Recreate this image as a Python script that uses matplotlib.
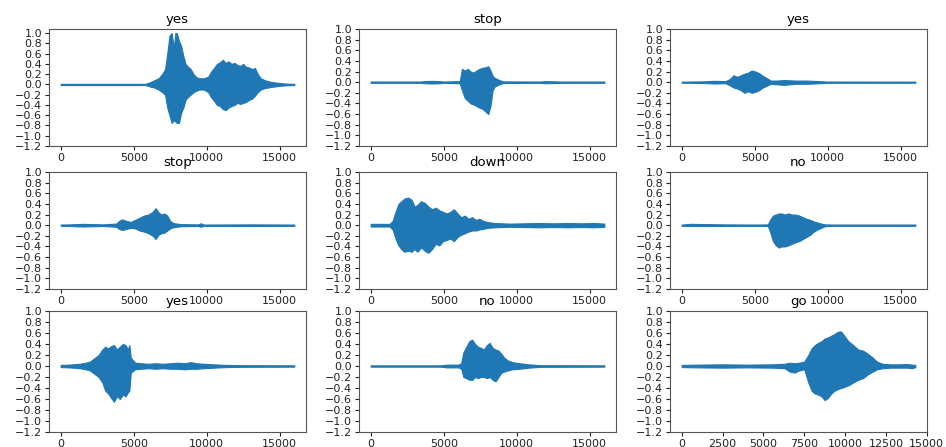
import matplotlib
matplotlib.use("Agg")
import matplotlib.pyplot as plt

# ---------------- data (envelopes) ----------------
titles = ["yes", "stop", "yes", "stop", "down", "no", "yes", "no", "go"]

# panel 1 "yes"
t1 = [0, 5800, 6100, 6400, 6700, 6950, 7150, 7300, 7450, 7600, 7750, 7850, 7950, 8100, 8250, 8400, 8550,
      8700, 8900, 9100, 9300, 9500, 9800, 10100, 10300, 10500, 10700, 10900, 11100, 11300, 11500, 11700,
      11900, 12100, 12300, 12500, 12700, 12900, 13100, 13300, 13500, 13700, 14000, 14400, 14900, 15500, 16000]
u1 = [0.012, 0.012, 0.04, 0.08, 0.12, 0.2, 0.3, 0.6, 0.95, 1.0, 0.7, 1.0, 1.0, 0.85, 0.75, 0.55, 0.4,
      0.35, 0.3, 0.2, 0.14, 0.12, 0.12, 0.15, 0.25, 0.32, 0.4, 0.43, 0.48, 0.42, 0.45, 0.4,
      0.42, 0.38, 0.36, 0.4, 0.34, 0.33, 0.3, 0.32, 0.2, 0.12, 0.08, 0.05, 0.03, 0.015, 0.012]
l1 = [-0.012, -0.012, -0.04, -0.06, -0.1, -0.15, -0.2, -0.45, -0.6, -0.75, -0.7, -0.72, -0.75, -0.75, -0.55, -0.45, -0.3,
      -0.25, -0.2, -0.15, -0.12, -0.1, -0.1, -0.15, -0.25, -0.32, -0.4, -0.42, -0.48, -0.5, -0.45, -0.42,
      -0.4, -0.36, -0.38, -0.36, -0.34, -0.3, -0.28, -0.22, -0.15, -0.1, -0.07, -0.05, -0.03, -0.015, -0.012]

# panel 2 "stop"
t2 = [0, 3400, 3700, 4200, 4700, 5000, 6100, 6250, 6450, 6650, 6850, 7050, 7250, 7450, 7650, 7850,
      8050, 8200, 8350, 8500, 8800, 9100, 11600, 12000, 12600, 13100, 16000]
u2 = [0.012, 0.012, 0.02, 0.025, 0.02, 0.012, 0.02, 0.25, 0.22, 0.25, 0.2, 0.18, 0.22, 0.25, 0.27, 0.28,
      0.3, 0.22, 0.12, 0.08, 0.04, 0.015, 0.012, 0.02, 0.015, 0.012, 0.012]
l2 = [-0.012, -0.012, -0.02, -0.025, -0.02, -0.012, -0.02, -0.15, -0.3, -0.35, -0.4, -0.42, -0.45, -0.48, -0.5, -0.55,
      -0.6, -0.45, -0.15, -0.08, -0.04, -0.015, -0.012, -0.02, -0.015, -0.012, -0.012]

# panel 3 "yes"
t3 = [0, 1500, 2200, 3000, 3300, 3550, 3800, 4050, 4300, 4550, 4800, 5050, 5300, 5550, 5800, 6100,
      6500, 7000, 7800, 8600, 9400, 9900, 16000]
u3 = [0.01, 0.015, 0.025, 0.02, 0.06, 0.13, 0.1, 0.13, 0.16, 0.18, 0.22, 0.2, 0.17, 0.12, 0.08, 0.03,
      0.03, 0.04, 0.03, 0.03, 0.02, 0.012, 0.01]
l3 = [-0.01, -0.015, -0.025, -0.02, -0.06, -0.1, -0.12, -0.15, -0.2, -0.17, -0.2, -0.18, -0.15, -0.1, -0.07, -0.03,
      -0.04, -0.05, -0.03, -0.03, -0.02, -0.012, -0.01]

# panel 4 "stop"
t4 = [0, 600, 1500, 2200, 2900, 3800, 4000, 4200, 4500, 4800, 5100, 5400, 5700, 6000, 6300, 6500,
      6700, 6900, 7100, 7300, 7500, 7700, 8200, 9400, 9600, 9800, 13000, 16000]
u4 = [0.012, 0.015, 0.025, 0.02, 0.015, 0.03, 0.08, 0.11, 0.08, 0.06, 0.1, 0.14, 0.18, 0.2, 0.25, 0.32,
      0.24, 0.2, 0.22, 0.18, 0.08, 0.04, 0.02, 0.015, 0.035, 0.012, 0.015, 0.012]
l4 = [-0.012, -0.015, -0.025, -0.02, -0.015, -0.03, -0.07, -0.09, -0.07, -0.05, -0.06, -0.1, -0.12, -0.15, -0.2, -0.26,
      -0.18, -0.15, -0.14, -0.1, -0.06, -0.04, -0.02, -0.015, -0.03, -0.012, -0.015, -0.012]

# panel 5 "down"
t5 = [0, 1300, 1500, 1700, 1900, 2100, 2300, 2550, 2800, 3000, 3200, 3450, 3700, 3950, 4200, 4450,
      4700, 4950, 5200, 5450, 5700, 5950, 6200, 6450, 6700, 6950, 7200, 7450, 7700, 8000, 8500,
      9500, 10500, 11500, 12500, 13500, 14500, 15300, 16000]
u5 = [0.025, 0.025, 0.08, 0.25, 0.4, 0.45, 0.5, 0.52, 0.48, 0.35, 0.38, 0.45, 0.42, 0.35, 0.3, 0.33,
      0.28, 0.25, 0.22, 0.25, 0.3, 0.22, 0.15, 0.18, 0.12, 0.15, 0.1, 0.12, 0.08, 0.06, 0.04,
      0.03, 0.035, 0.04, 0.035, 0.04, 0.035, 0.04, 0.03]
l5 = [-0.025, -0.025, -0.08, -0.25, -0.38, -0.45, -0.5, -0.48, -0.5, -0.45, -0.5, -0.42, -0.48, -0.52, -0.45, -0.35,
      -0.38, -0.3, -0.28, -0.25, -0.3, -0.22, -0.18, -0.15, -0.12, -0.1, -0.1, -0.08, -0.07, -0.05, -0.04,
      -0.03, -0.035, -0.04, -0.035, -0.04, -0.035, -0.04, -0.03]

# panel 6 "no"
t6 = [0, 600, 3000, 5200, 5900, 6050, 6250, 6450, 6650, 6850, 7050, 7300, 7550, 7800, 8050, 8300,
      8550, 8800, 9050, 9300, 9550, 9800, 10300, 16000]
u6 = [0.012, 0.025, 0.015, 0.012, 0.015, 0.1, 0.18, 0.2, 0.22, 0.22, 0.2, 0.22, 0.2, 0.2, 0.18, 0.15,
      0.12, 0.1, 0.07, 0.05, 0.03, 0.015, 0.012, 0.012]
l6 = [-0.012, -0.015, -0.015, -0.012, -0.015, -0.12, -0.3, -0.38, -0.42, -0.4, -0.4, -0.38, -0.35, -0.32, -0.3, -0.26,
      -0.22, -0.18, -0.12, -0.08, -0.05, -0.02, -0.012, -0.012]

# panel 7 "yes"
t7 = [0, 600, 1300, 1700, 2000, 2300, 2600, 2850, 3050, 3250, 3450, 3650, 3850, 4050, 4250, 4450,
      4600, 4700, 4800, 5100, 5500, 6000, 6500, 7000, 7500, 8000, 8500, 8900, 9300, 9800, 10500,
      11300, 12500, 16000]
u7 = [0.02, 0.025, 0.04, 0.06, 0.08, 0.14, 0.2, 0.3, 0.35, 0.32, 0.36, 0.38, 0.3, 0.35, 0.4, 0.38,
      0.3, 0.38, 0.15, 0.06, 0.05, 0.04, 0.05, 0.04, 0.05, 0.06, 0.05, 0.07, 0.05, 0.04, 0.03,
      0.02, 0.015, 0.012]
l7 = [-0.02, -0.025, -0.04, -0.06, -0.08, -0.14, -0.2, -0.3, -0.45, -0.5, -0.58, -0.65, -0.55, -0.6, -0.52, -0.55,
      -0.48, -0.45, -0.12, -0.06, -0.05, -0.04, -0.05, -0.04, -0.05, -0.05, -0.06, -0.05, -0.05, -0.04, -0.03,
      -0.02, -0.015, -0.012]

# panel 8 "no"
t8 = [0, 4800, 5200, 6000, 6200, 6350, 6550, 6750, 6950, 7150, 7350, 7550, 7750, 7950, 8150, 8350,
      8550, 8750, 8950, 9150, 9400, 9700, 10200, 10800, 11600, 16000]
u8 = [0.012, 0.012, 0.025, 0.025, 0.05, 0.25, 0.35, 0.45, 0.48, 0.4, 0.35, 0.33, 0.3, 0.38, 0.42, 0.33,
      0.3, 0.28, 0.22, 0.15, 0.1, 0.07, 0.05, 0.03, 0.015, 0.012]
l8 = [-0.012, -0.012, -0.025, -0.025, -0.05, -0.2, -0.22, -0.25, -0.25, -0.2, -0.22, -0.2, -0.2, -0.22, -0.2, -0.25,
      -0.28, -0.2, -0.12, -0.1, -0.08, -0.06, -0.05, -0.03, -0.015, -0.012]

# panel 9 "go"
t9 = [0, 1000, 2500, 4000, 5500, 6300, 6600, 6900, 7200, 7500, 7750, 7950, 8150, 8350, 8550, 8750,
      8950, 9150, 9350, 9550, 9750, 9950, 10200, 10500, 10800, 11100, 11400, 11700, 11950, 12300,
      12800, 13300, 13800, 14100, 14300]
u9 = [0.02, 0.025, 0.03, 0.025, 0.03, 0.04, 0.06, 0.05, 0.06, 0.08, 0.2, 0.32, 0.38, 0.42, 0.45, 0.5,
      0.52, 0.55, 0.58, 0.62, 0.63, 0.55, 0.45, 0.38, 0.3, 0.28, 0.22, 0.15, 0.08, 0.04,
      0.03, 0.03, 0.035, 0.025, 0.02]
l9 = [-0.02, -0.025, -0.03, -0.025, -0.03, -0.04, -0.1, -0.12, -0.08, -0.06, -0.3, -0.45, -0.5, -0.52, -0.55, -0.62,
      -0.58, -0.5, -0.45, -0.42, -0.4, -0.38, -0.35, -0.3, -0.25, -0.22, -0.15, -0.1, -0.06, -0.04,
      -0.03, -0.03, -0.03, -0.04, -0.02]

times = [t1, t2, t3, t4, t5, t6, t7, t8, t9]
uppers = [u1, u2, u3, u4, u5, u6, u7, u8, u9]
lowers = [l1, l2, l3, l4, l5, l6, l7, l8, l9]

yticks = [-1.2, -1.0, -0.8, -0.6, -0.4, -0.2, 0.0, 0.2, 0.4, 0.6, 0.8, 1.0]

# ---------------- layout ----------------
W, H = 946, 447
fig = plt.figure(figsize=(W / 100, H / 100), dpi=100)
col_left = [49, 359, 670]
col_w = 257
row_top = [29, 172, 311]
row_h = [117, 117, 121]
color = "#1f77b4"

for i in range(9):
    r, c = divmod(i, 3)
    ax = fig.add_axes([col_left[c] / W, 1 - (row_top[r] + row_h[r]) / H, col_w / W, row_h[r] / H])
    ax.fill_between(times[i], lowers[i], uppers[i], color=color, linewidth=0.8, edgecolor=color)
    ax.set_xlim(-0.05 * times[i][-1], 1.05 * times[i][-1])
    if i == 0:
        ax.set_ylim(-1.2, 1.08)
    else:
        ax.set_ylim(-1.2, 1.0)
    ax.set_yticks(yticks)
    if i == 8:
        ax.set_xticks([0, 2500, 5000, 7500, 10000, 12500, 15000])
    else:
        ax.set_xticks([0, 5000, 10000, 15000])
    ax.tick_params(labelsize=8, length=3, pad=2, colors="#222222")
    ax.set_title(titles[i], fontsize=9.5, pad=4)
    for s in ax.spines.values():
        s.set_color("#555555")
        s.set_linewidth(0.8)

fig.savefig("out.png", dpi=100)
